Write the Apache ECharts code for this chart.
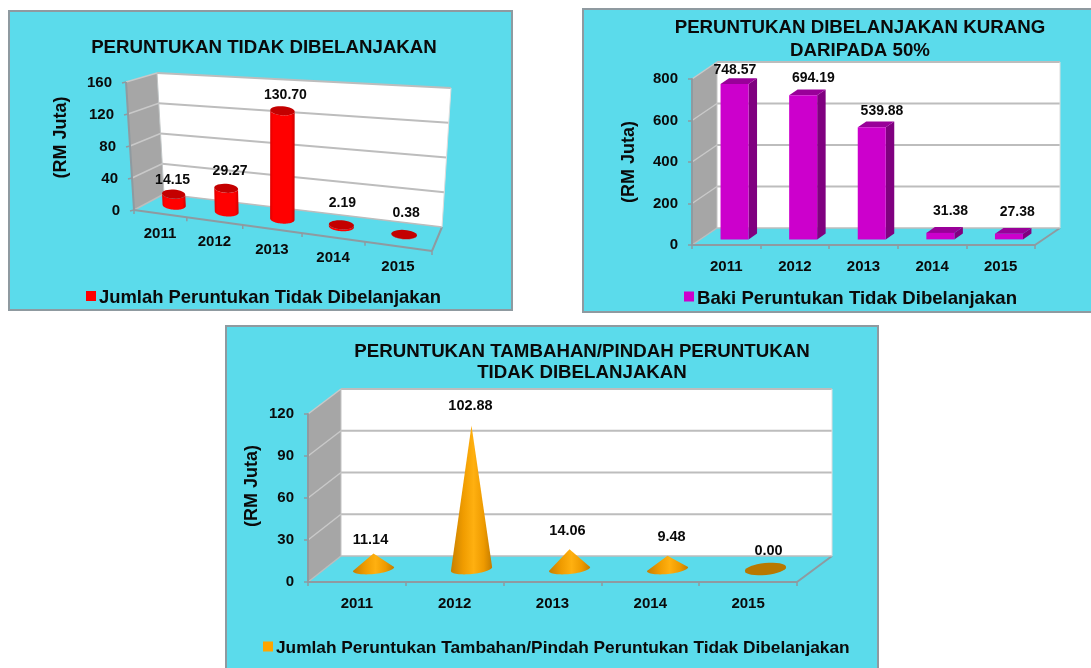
<!DOCTYPE html>
<html><head><meta charset="utf-8">
<style>html,body{margin:0;padding:0;background:#fff}#c{width:1091px;height:668px}</style>
<script src="https://cdn.jsdelivr.net/npm/echarts@6/dist/echarts.min.js"></script>
</head><body><div id="c"></div>
<script>
var years = ['2011','2012','2013','2014','2015'];
var unspentValues = [14.15,29.27,130.70,2.19,0.38];
var balanceValues = [748.57,694.19,539.88,31.38,27.38];
var addedValues = [11.14,102.88,14.06,9.48,0.00];
var unspentTicks = [0,40,80,120,160];
var balanceTicks = [0,200,400,600,800];
var addedTicks = [0,30,60,90,120];
var unspentName = 'Jumlah Peruntukan Tidak Dibelanjakan';
var balanceName = 'Baki Peruntukan Tidak Dibelanjakan';
var addedName = 'Jumlah Peruntukan Tambahan/Pindah Peruntukan Tidak Dibelanjakan';

var FONT = '"Liberation Sans", Arial, sans-serif';
var PANEL = '#5bdbeb', EDGE = '#8f9aa0', WALL = '#a6a6a6', GRID = '#bdbdbd', SIDEGRID = '#c9c9c9';

// Layout of each 3D box: corners of front/back planes (bottom and top)
var boxes = [
  {FLb:[134,210],FRb:[432,251],BLb:[164,194],BRb:[442,227],FLt:[126,82],FRt:[441,106],BLt:[157,73],BRt:[451,88],warp:1.16},
  {FLb:[692,245],FRb:[1035,245],BLb:[717,228],BRb:[1060,228],FLt:[692,79],FRt:[1035,79],BLt:[717,62],BRt:[1060,62],warp:1},
  {FLb:[308,582],FRb:[797,582],BLb:[341,556],BRb:[832,556],FLt:[308,414],FRt:[797,414],BLt:[341,389],BRt:[832,389],warp:1}
];
var grids = [
  {left:134,width:298,top:83,height:127},
  {left:692,width:343,top:79,height:166},
  {left:308,width:489,top:414,height:168}
];
var nudges = [
  [[-1,-14],[4,-17],[3,-16],[1,-22],[2,-21]],
  [[-4,-11],[6,-14],[6,-13],[6,-19],[4,-19]],
  [[-3,-13],[-1,-19],[-2,-18],[4,-19],[3,-18]]
];

function lerp(a,b,k){return [a[0]+(b[0]-a[0])*k,a[1]+(b[1]-a[1])*k];}
function project(box,s,t,d){
  var w=box.warp, u=s/(w-(w-1)*s);
  var fb=lerp(box.FLb,box.FRb,u), bb=lerp(box.BLb,box.BRb,u);
  var ft=lerp(box.FLt,box.FRt,u), bt=lerp(box.BLt,box.BRt,u);
  return lerp(lerp(fb,bb,d),lerp(ft,bt,d),t);
}
function fracs(params,api,cat,val){
  var p=api.coord([cat,val]), g=params.coordSys;
  return [(p[0]-g.x)/g.width,(g.y+g.height-p[1])/g.height];
}
function poly(points,fill,z2){return {type:'polygon',z2:z2||0,shape:{points:points},style:{fill:fill,stroke:null}};}
function seg(a,b,color,w){return {type:'line',shape:{x1:a[0],y1:a[1],x2:b[0],y2:b[1]},style:{stroke:color,lineWidth:w,fill:null}};}
function txt(str,x,y,size,align){return {type:'text',style:{text:str,x:x,y:y,fill:'#0a0a0a',font:'bold '+size+'px '+FONT,textAlign:align||'center',textVerticalAlign:'middle',align:align||'center',verticalAlign:'middle'}};}
function ellipse(c,rx,ry,tilt,from,to){
  var out=[],n=32,cs=Math.cos(tilt),sn=Math.sin(tilt);
  for(var i=0;i<=n;i++){var a=from+(to-from)*i/n,x=rx*Math.cos(a),y=ry*Math.sin(a);
    out.push([c[0]+x*cs-y*sn,c[1]+x*sn+y*cs]);}
  return out;
}
function sideGradient(stops){
  return {type:'linear',x:0,y:0,x2:1,y2:0,colorStops:stops.map(function(c){return {offset:c[0],color:c[1]};})};
}

function boxRenderer(idx,ticks,skewLabels){
  return function(params,api){
    var box=boxes[idx],kids=[];
    kids.push(poly([box.FLb,box.FLt,box.BLt,box.BLb],WALL));
    kids.push(poly([box.BLb,box.BRb,box.BRt,box.BLt],'#ffffff'));
    kids.push(poly([box.FLb,box.FRb,box.BRb,box.BLb],PANEL));
    ticks.forEach(function(v){
      var t=fracs(params,api,0,v)[1];
      var a=project(box,0,t,0),b=project(box,0,t,1),c=project(box,1,t,1);
      if(v!==0){kids.push(seg(b,c,GRID,2));kids.push(seg(a,b,SIDEGRID,1.5));}
      if(skewLabels){
        kids.push(seg(a,[a[0]-4,a[1]+1],EDGE,1.5));
        kids.push(txt(String(v),a[0]-14,a[1]+1,15,'right'));
      }
    });
    kids.push(seg(box.FRb,box.BRb,EDGE,2));
    kids.push(seg(box.BLb,box.BRb,GRID,1.5));
    kids.push(seg(box.BRb,box.BRt,'#dddddd',1));
    kids.push(seg(box.BLb,box.BLt,'#c4c4c4',1));
    kids.push(seg(box.FLb,box.BLb,GRID,1.5));
    if(skewLabels){
      kids.push(seg(box.FLb,box.FLt,EDGE,2));
      kids.push(seg(box.FLb,box.FRb,EDGE,2));
      for(var i=0;i<=years.length;i++){
        var p=project(box,i/years.length,0,0);
        kids.push(seg(p,[p[0],p[1]+4],EDGE,1.5));
        if(i<years.length){
          var m=project(box,(i+0.5)/years.length,0,0);
          kids.push(txt(years[i],m[0],m[1]+20.5,15));
        }
      }
    }
    return {type:'group',children:kids};
  };
}

function cylinderItem(params,api){
  var i=api.value(0),v=api.value(1),box=boxes[0];
  var f=fracs(params,api,i,v);
  var base=project(box,f[0],0,0.5),top=project(box,f[0],f[1],0.5);
  var rx=11.5+1.5*f[0],ry=4.5,tilt=0.07;
  var body=ellipse(base,rx,ry,tilt,0,Math.PI).concat(ellipse(top,rx,ry,tilt,Math.PI,0));
  var n=nudges[0][i];
  return {type:'group',children:[
    poly(body,sideGradient([[0,'#dd0000'],[0.12,'#ff0000'],[0.85,'#ff0000'],[1,'#d00000']])),
    poly(ellipse(top,rx,ry,tilt,0,Math.PI*2),'#c40000'),
    txt(v.toFixed(2),top[0]+n[0],top[1]+n[1],14)
  ]};
}
function barItem(params,api){
  var i=api.value(0),v=api.value(1),box=boxes[1];
  var f=fracs(params,api,i,v),hw=14/grids[1].width,d0=0.33,d1=0.67;
  var P=function(s,t,d){return project(box,s,t,d);};
  var L=f[0]-hw,R=f[0]+hw,T=f[1],top=P(f[0],T,0.5),n=nudges[1][i];
  return {type:'group',children:[
    poly([P(R,0,d0),P(R,0,d1),P(R,T,d1),P(R,T,d0)],'#800080'),
    poly([P(L,T,d0),P(R,T,d0),P(R,T,d1),P(L,T,d1)],'#990099'),
    poly([P(L,0,d0),P(R,0,d0),P(R,T,d0),P(L,T,d0)],'#cc00cc'),
    txt(v.toFixed(2),top[0]+n[0],top[1]+n[1],14)
  ]};
}
function coneItem(params,api){
  var i=api.value(0),v=api.value(1),box=boxes[2];
  var f=fracs(params,api,i,v);
  var base=project(box,f[0],0,0.5),top=project(box,f[0],f[1],0.5);
  var rx=20.7,ry=5,tilt=-0.1,n=nudges[2][i],kids=[];
  if(v>0){
    kids.push(poly([top].concat(ellipse(base,rx,ry,tilt,0,Math.PI)),
      sideGradient([[0,'#c77f00'],[0.3,'#f09c00'],[0.55,'#ffb010'],[0.8,'#ee9a00'],[1,'#c47c00']])));
  } else {
    kids.push(poly(ellipse(base,rx,ry+1,tilt,0,Math.PI*2),'#b87800'));
  }
  kids.push(txt(v.toFixed(2),top[0]+n[0],top[1]+n[1],14.5));
  return {type:'group',children:kids};
}

function rows(vals){return vals.map(function(v,i){return [i,v];});}
function panel(x,y,w,h){
  return {type:'rect',z:-10,shape:{x:x,y:y,width:w,height:h},style:{fill:PANEL,stroke:EDGE,lineWidth:2}};
}
function titleOf(text,x,y,size,lh){
  return {text:text,left:x,top:y,textAlign:'center',textStyle:{fontFamily:FONT,fontWeight:'bold',fontSize:size,lineHeight:lh,color:'#0a0a0a'},padding:0};
}
function legendOf(i,name,x,y,size){
  return {data:[name],left:x,top:y,padding:0,itemWidth:10,itemHeight:14,itemGap:0,
    icon:'path://M0,0L10,0L10,10L0,10Z M0,14L10,14Z',
    textStyle:{fontFamily:FONT,fontWeight:'bold',fontSize:size,color:'#0a0a0a',padding:[0,0,0,-2]}};
}
function xAxisOf(i,showAll){
  return {type:'category',gridIndex:i,data:years,
    axisLine:{show:showAll,lineStyle:{color:EDGE,width:2}},
    axisTick:{show:showAll,length:4,alignWithLabel:false,lineStyle:{color:EDGE,width:1.5}},
    axisLabel:{show:showAll,margin:14,color:'#0a0a0a',fontFamily:FONT,fontWeight:'bold',fontSize:15,interval:0},
    splitLine:{show:false}};
}
function yAxisOf(i,ticks,showAll,gap,pad){
  return {type:'value',gridIndex:i,min:ticks[0],max:ticks[ticks.length-1],interval:ticks[1]-ticks[0],
    name:'(RM Juta)',nameLocation:'middle',nameGap:gap,nameRotate:90,
    nameTextStyle:{fontFamily:FONT,fontWeight:'bold',fontSize:18,color:'#0a0a0a',padding:pad},
    axisLine:{show:showAll,lineStyle:{color:EDGE,width:2}},
    axisTick:{show:showAll,length:4,lineStyle:{color:EDGE,width:1.5}},
    axisLabel:{show:showAll,margin:14,color:'#0a0a0a',fontFamily:FONT,fontWeight:'bold',fontSize:15},
    splitLine:{show:false}};
}
function boxSeries(i,ticks,skew){
  return {type:'custom',name:'box'+i,xAxisIndex:i,yAxisIndex:i,z:-5,silent:true,clip:false,
    renderItem:boxRenderer(i,ticks,skew),data:[[0,0]],encode:{x:0,y:1},animation:false};
}
function markSeries(i,name,color,vals,render){
  return {type:'custom',name:name,xAxisIndex:i,yAxisIndex:i,z:3,clip:false,itemStyle:{color:color},
    renderItem:render,data:rows(vals),encode:{x:0,y:1},animation:false};
}

var chart = echarts.init(document.getElementById('c'),null,{renderer:'canvas'});
chart.setOption({
  animation:false,
  backgroundColor:'#ffffff',
  graphic:{elements:[panel(9,11,503,299),panel(583,9,520,303),panel(226,326,652,360)]},
  title:[
    titleOf('PERUNTUKAN TIDAK DIBELANJAKAN',264,38,18.7,20),
    titleOf('PERUNTUKAN DIBELANJAKAN KURANG\nDARIPADA 50%',860,16,18.7,23),
    titleOf('PERUNTUKAN TAMBAHAN/PINDAH PERUNTUKAN\nTIDAK DIBELANJAKAN',582,341,18.7,21)
  ],
  legend:[
    legendOf(0,unspentName,86,289,18.4),
    legendOf(1,balanceName,684,289,18.6),
    legendOf(2,addedName,263,640,17.3)
  ],
  grid:grids,
  xAxis:[xAxisOf(0,false),xAxisOf(1,true),xAxisOf(2,true)],
  yAxis:[yAxisOf(0,unspentTicks,false,64,[0,0,0,18]),yAxisOf(1,balanceTicks,true,54,0),yAxisOf(2,addedTicks,true,47,[0,0,0,24])],
  series:[
    boxSeries(0,unspentTicks,true),
    boxSeries(1,balanceTicks,false),
    boxSeries(2,addedTicks,false),
    markSeries(0,unspentName,'#ff0000',unspentValues,cylinderItem),
    markSeries(1,balanceName,'#cc00cc',balanceValues,barItem),
    markSeries(2,addedName,'#ffa500',addedValues,coneItem)
  ]
});
</script></body></html>
